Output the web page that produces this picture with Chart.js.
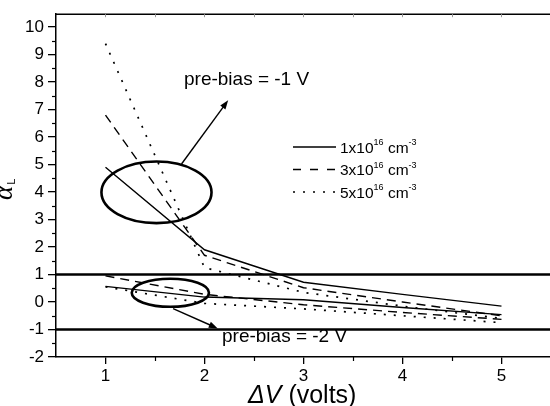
<!DOCTYPE html>
<html><head><meta charset="utf-8">
<script src="https://cdn.jsdelivr.net/npm/chart.js@4"></script>
<style>html,body{margin:0;padding:0;background:#fff;overflow:hidden}</style>
</head><body>
<canvas id="c" width="550" height="406" style="display:block;width:550px;height:406px"></canvas>
<script>
// ---- data ----
const deltaV = [1, 2, 3, 4, 5];
const xTicks = [1, 2, 3, 4, 5];
const yTicks = [-2, -1, 0, 1, 2, 3, 4, 5, 6, 7, 8, 9, 10];
// pre-bias = -1 V group
const pre1_n1 = [4.9, 1.9, 0.72, 0.28, -0.15];
const pre1_n3 = [6.8, 1.7, 0.52, 0.0, -0.5];
const pre1_n5 = [9.4, 1.25, 0.35, -0.15, -0.6];
// pre-bias = -2 V group
const pre2_n1 = [0.57, 0.18, 0.08, -0.2, -0.46];
const pre2_n3 = [0.95, 0.28, -0.1, -0.38, -0.63];
const pre2_n5 = [0.55, -0.05, -0.25, -0.5, -0.75];
const refLevels = [1, -1];
const legendMantissa = ['1x10', '3x10', '5x10'];
const legendExp = '16';
const legendUnit = ' cm';
const legendUnitExp = '-3';
const note1 = 'pre-bias = -1 V';
const note2 = 'pre-bias = -2 V';
// annotation geometry in data units
const ellipse1 = [1.515, 3.99, 0.556, 1.12];
const ellipse2 = [1.655, 0.337, 0.39, 0.51];
const arrow1 = [1.768, 5.02, 2.239, 7.34];
const arrow2 = [1.683, -0.24, 2.134, -0.96];

const FONT = "'Liberation Sans', Arial, sans-serif";
const SOLID = [], DASH = [9, 6], DOT = [2, 8];

function pts(ys) { return deltaV.map((x, i) => ({ x: x, y: ys[i] })); }
function ds(ys, dash, w) {
  return { data: pts(ys), borderColor: '#000', borderWidth: w || 1.4, borderDash: dash,
    showLine: true, pointRadius: 0, fill: false, tension: 0 };
}
const X_MIN = 0.5, X_MAX = 5.49;
const datasets = [
  ds(pre1_n1, SOLID), ds(pre1_n3, DASH), ds(pre1_n5, DOT, 1.7),
  ds(pre2_n1, SOLID), ds(pre2_n3, DASH), ds(pre2_n5, DOT, 1.7)
];
refLevels.forEach(v => datasets.push({ data: [{ x: X_MIN, y: v }, { x: X_MAX, y: v }],
  borderColor: '#000', borderWidth: 2.6, showLine: true, pointRadius: 0, fill: false }));

const deco = {
  id: 'deco',
  afterDatasetsDraw(chart) {
    const ctx = chart.ctx, xs = chart.scales.x, ys = chart.scales.y, a = chart.chartArea;
    const px = v => xs.getPixelForValue(v), py = v => ys.getPixelForValue(v);
    ctx.save();
    // top frame line
    ctx.strokeStyle = '#000'; ctx.lineWidth = 1.5;
    ctx.beginPath(); ctx.moveTo(a.left, a.top); ctx.lineTo(chart.width, a.top); ctx.stroke();
    // faint top ticks
    ctx.strokeStyle = '#999'; ctx.lineWidth = 1;
    for (let v = 1; v <= 5.01; v += 0.5) { const x = Math.round(px(v)) + 0.5;
      ctx.beginPath(); ctx.moveTo(x, a.top); ctx.lineTo(x, a.top + 3); ctx.stroke(); }
    // minor ticks
    ctx.strokeStyle = '#000'; ctx.lineWidth = 1.2;
    for (let v = 1.5; v < 5.5; v += 1) { const x = Math.round(px(v)) + 0.5;
      ctx.beginPath(); ctx.moveTo(x, a.bottom); ctx.lineTo(x, a.bottom + 4); ctx.stroke(); }
    for (let v = -1.5; v < 10.5; v += 1) { const y = Math.round(py(v)) + 0.5;
      ctx.beginPath(); ctx.moveTo(a.left, y); ctx.lineTo(a.left - 4, y); ctx.stroke(); }
    // ellipses
    ctx.lineWidth = 2.6;
    [ellipse1, ellipse2].forEach(e => {
      const cx = px(e[0]), cy = py(e[1]);
      const rx = Math.abs(px(e[0] + e[2]) - cx), ry = Math.abs(py(e[1] + e[3]) - cy);
      ctx.beginPath(); ctx.ellipse(cx, cy, rx, ry, 0, 0, Math.PI * 2); ctx.stroke();
    });
    // arrows
    [arrow1, arrow2].forEach(r => {
      const x0 = px(r[0]), y0 = py(r[1]), x1 = px(r[2]), y1 = py(r[3]);
      const ang = Math.atan2(y1 - y0, x1 - x0), L = 9, W = 3.2;
      ctx.lineWidth = 1.4;
      ctx.beginPath(); ctx.moveTo(x0, y0);
      ctx.lineTo(x1 - Math.cos(ang) * L * 0.8, y1 - Math.sin(ang) * L * 0.8); ctx.stroke();
      ctx.beginPath(); ctx.moveTo(x1, y1);
      ctx.lineTo(x1 - Math.cos(ang) * L - Math.sin(ang) * W, y1 - Math.sin(ang) * L + Math.cos(ang) * W);
      ctx.lineTo(x1 - Math.cos(ang) * L + Math.sin(ang) * W, y1 - Math.sin(ang) * L - Math.cos(ang) * W);
      ctx.closePath(); ctx.fillStyle = '#000'; ctx.fill();
    });
    // notes
    ctx.fillStyle = '#000'; ctx.textBaseline = 'middle'; ctx.textAlign = 'left';
    ctx.font = '19px ' + FONT;
    ctx.fillText(note1, 184, 80);
    ctx.fillText(note2, 222, 337);
    // legend
    const rows = [147, 169.5, 192], dashes = [[], [8, 9], [2, 8]], widths = [1.4, 1.4, 1.7];
    rows.forEach((y, i) => {
      ctx.setLineDash(dashes[i]); ctx.lineWidth = widths[i];
      ctx.beginPath(); ctx.moveTo(293, y); ctx.lineTo(336, y); ctx.stroke();
      ctx.setLineDash([]);
      let x = 340;
      ctx.textBaseline = 'alphabetic';
      ctx.font = '15.5px ' + FONT; ctx.fillText(legendMantissa[i], x, y + 5.5);
      x += ctx.measureText(legendMantissa[i]).width;
      ctx.font = '9px ' + FONT; ctx.fillText(legendExp, x, y - 2);
      x += ctx.measureText(legendExp).width;
      ctx.font = '15.5px ' + FONT; ctx.fillText(legendUnit, x, y + 5.5);
      x += ctx.measureText(legendUnit).width;
      ctx.font = '9px ' + FONT; ctx.fillText(legendUnitExp, x, y - 2);
    });
    // x title
    ctx.textBaseline = 'alphabetic';
    let tx = 248;
    ctx.font = 'italic 25px ' + FONT; ctx.fillText('\u0394V', tx, 403);
    tx += ctx.measureText('\u0394V').width;
    ctx.font = '25px ' + FONT; ctx.fillText(' (volts)', tx, 403);
    // y title
    ctx.translate(12, 200); ctx.rotate(-Math.PI / 2);
    ctx.font = "italic 27px 'Liberation Serif', 'DejaVu Serif', serif";
    ctx.fillText('\u03B1', 0, 0);
    const aw = ctx.measureText('\u03B1').width;
    ctx.font = '11px ' + FONT; ctx.fillText('L', aw + 1, 3);
    ctx.restore();
  }
};

new Chart(document.getElementById('c'), {
  type: 'scatter',
  data: { datasets },
  options: {
    responsive: false, animation: false, devicePixelRatio: 1,
    layout: { padding: { top: 13, left: 0, right: 0, bottom: 0 } },
    plugins: { legend: { display: false }, tooltip: { enabled: false } },
    scales: {
      x: {
        type: 'linear', min: X_MIN, max: X_MAX,
        afterBuildTicks: s => { s.ticks = xTicks.map(v => ({ value: v })); },
        afterFit: s => { s.height = 49; },
        ticks: { color: '#000', font: { family: FONT, size: 17 }, padding: 2 },
        grid: { drawOnChartArea: false, drawTicks: true, tickLength: 7, color: '#000', lineWidth: 1.3 },
        border: { display: true, color: '#000', width: 1.5 }
      },
      y: {
        type: 'linear', min: -2, max: 10.47,
        afterBuildTicks: s => { s.ticks = yTicks.map(v => ({ value: v })); },
        afterFit: s => { s.width = 56; },
        ticks: { color: '#000', font: { family: FONT, size: 17 }, padding: 4 },
        grid: { drawOnChartArea: false, drawTicks: true, tickLength: 8, color: '#000', lineWidth: 1.3 },
        border: { display: true, color: '#000', width: 1.5 }
      }
    }
  },
  plugins: [deco]
});
</script>
</body></html>
